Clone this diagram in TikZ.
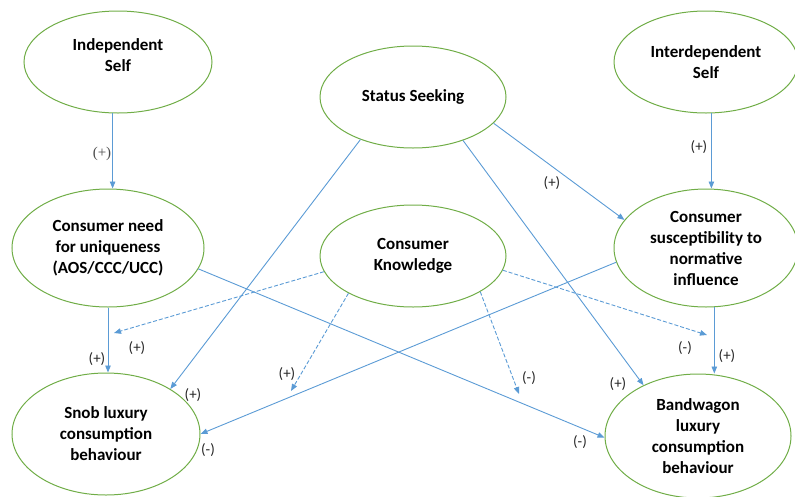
\documentclass[tikz,border=0pt]{standalone}
\usepackage{fontspec}
\setmainfont{Carlito}
\newfontfamily\signserif{Liberation Serif}
\usetikzlibrary{arrows.meta,shapes.geometric}
\definecolor{ellgreen}{HTML}{70AD47}
\definecolor{linkblue}{HTML}{5B9BD5}
\begin{document}
\begin{tikzpicture}[x=1pt,y=-1pt,
  construct/.style={ellipse, draw=ellgreen, line width=1pt, inner sep=0pt,
    align=center, font=\bfseries\fontsize{17}{21}\selectfont},
  link/.style={draw=linkblue, line width=0.9pt,
    -{Triangle[length=7pt,width=5.5pt]}},
  moderation/.style={link, dash pattern=on 4pt off 2pt},
  sign/.style={font=\fontsize{15}{18}\selectfont, text=black!85, inner sep=0pt}]
\useasboundingbox (0,0) rectangle (795,496);

% constructs
\node[construct, minimum width=188pt, minimum height=102pt,
  label={[construct, draw=none, yshift=7pt]center:Independent\\Self}] (ind) at (118,62) {};
\node[construct, minimum width=186pt, minimum height=102pt] (ss) at (413,97) {Status Seeking};
\node[construct, minimum width=184pt, minimum height=102pt] (inter) at (706,62) {Interdependent\\Self};
\node[construct, minimum width=192pt, minimum height=118pt] (nfu) at (108,248) {Consumer need\\for uniqueness\\(AOS/CCC/UCC)};
\node[construct, minimum width=186pt, minimum height=102pt] (ck) at (413,256) {Consumer\\Knowledge};
\node[construct, minimum width=184pt, minimum height=118pt] (sus) at (706,248) {Consumer\\susceptibility to\\normative\\influence};
\node[construct, minimum width=188pt, minimum height=122pt] (snob) at (106,434) {Snob luxury\\consumption\\behaviour};
\node[construct, minimum width=186pt, minimum height=124pt] (band) at (698,436) {Bandwagon\\luxury\\consumption\\behaviour};

% direct effects
\draw[link] (ind.264) -- (ind.264 |- nfu.north);
\draw[link] (inter.276) -- (inter.276 |- sus.north);
\draw[link] (nfu.south) -- (nfu.south |- snob.north);
\draw[link] (sus.278) -- (sus.278 |- band.north);
\draw[link] (ss.342) -- (sus.161);
\draw[link] (ss.219) -- (snob.35);
\draw[link] (ss.319) -- (band.137);
\draw[link] (nfu.347) -- (band.181);
\draw[link] (sus.189) -- (snob.0);

% moderating effects of consumer knowledge
\coordinate (m1) at (114,333);
\coordinate (m2) at (291,391);
\coordinate (m3) at (519,394);
\coordinate (m4) at (707,335);
\draw[moderation] (ck.190) -- (m1);
\draw[moderation] (ck.210) -- (m2);
\draw[moderation] (ck.332) -- (m3);
\draw[moderation] (ck.351) -- (m4);

% signs
\node[sign, font=\signserif\fontsize{15}{18}\selectfont, text=black!70] (s1) at (102,154) {(+)};
\node[sign] (s2) at (699,147) {(+)};
\node[sign] (s3) at (552,183) {(+)};
\node[sign] (s4) at (97,359) {(+)};
\node[sign] (s5) at (137,348) {(+)};
\node[sign] (s6) at (193,395) {(+)};
\node[sign] (s7) at (287,374) {(+)};
\node[sign] (s8) at (208,450) {(-)};
\node[sign] (s9) at (529,378) {(-)};
\node[sign] (s10) at (618,384) {(+)};
\node[sign] (s11) at (685,348) {(-)};
\node[sign] (s12) at (727,356) {(+)};
\node[sign] (s13) at (580,442) {(-)};
\end{tikzpicture}
\end{document}
